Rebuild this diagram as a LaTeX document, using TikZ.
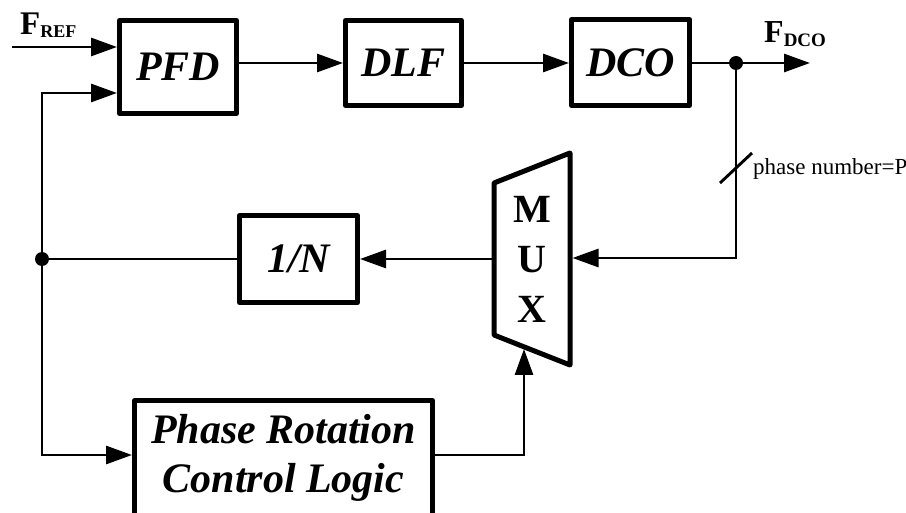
\documentclass[tikz,border=0pt]{standalone}
\usepackage{fontspec}
\setmainfont{Liberation Serif}
\usetikzlibrary{arrows.meta, positioning, calc}

\begin{document}
\begin{tikzpicture}[
  x=1pt, y=-1pt,
  blk/.style={draw, line width=5pt, line join=round, inner sep=0pt, align=center,
    font=\fontsize{42}{49}\selectfont\bfseries\itshape},
  wire/.style={line width=2.9pt},
  arr/.style={wire, -{Triangle[length=26pt, width=18pt]}},
  jdot/.style={circle, fill, inner sep=0pt, minimum size=14pt},
  lbl/.style={anchor=base west, inner sep=0pt}
]
  \useasboundingbox (0,0) rectangle (906,513);
  \clip (0,0) rectangle (906,513);

  % blocks
  \node[blk, minimum width=117pt, minimum height=93pt] (pfd) at (178,67) {PFD};
  \node[blk, minimum width=116pt, minimum height=85pt] (dlf) at (403.5,63) {DLF};
  \node[blk, minimum width=118pt, minimum height=86pt] (dco) at (630.5,62.5) {DCO};
  \node[blk, minimum width=118pt, minimum height=87pt] (ndiv) at (298.5,259) {1/N};
  \node[blk, minimum width=298pt, minimum height=115pt] (prc) at (283.5,458) {Phase Rotation\\Control Logic};

  % mux
  \coordinate (mux-tl) at (494,183);
  \coordinate (mux-tr) at (570,153);
  \coordinate (mux-br) at (570,365);
  \coordinate (mux-bl) at (494,335);
  \draw[line width=5pt, line join=round] (mux-tl) -- (mux-tr) -- (mux-br) -- (mux-bl) -- cycle;
  \node[align=center, font=\fontsize{40}{50}\selectfont\bfseries] (mux) at (532,259) {M\\U\\X};
  \coordinate (mux-in) at (572.5,258);
  \coordinate (mux-out) at (491.5,259);
  \coordinate (mux-sel) at (524,349);

  % connectors
  \coordinate (fref) at (12,47);
  \coordinate (tap) at (736,63);
  \coordinate (fdco) at (810,63);
  \coordinate (fb) at (42,259);
  \draw[arr] (fref) -- (fref -| pfd.west);
  \draw[arr] (pfd.east |- dlf) -- (dlf.west);
  \draw[arr] (dlf.east) -- (dlf.east -| dco.west);
  \draw[wire] (dco.east |- tap) -- (tap);
  \draw[arr] (tap) -- (fdco);
  \draw[arr] (tap) |- (mux-in);
  \draw[arr] (mux-out) -- (mux-out -| ndiv.east);
  \draw[wire] (ndiv.west |- fb) -- (fb);
  \draw[arr] (fb) |- ($(pfd.west)+(0,26)$);
  \draw[arr] (fb) |- (prc.west |- 0,455);
  \draw[arr] (prc.east |- 0,455) -| (mux-sel);
  \node[jdot] (tapdot) at (tap) {};
  \node[jdot] (fbdot) at (fb) {};
  \draw[wire] ($(tap)+(-16,120)$) -- ($(tap)+(16,90)$);

  % labels
  \node[lbl, font=\fontsize{33}{33}\selectfont\bfseries] (freflbl) at (20,35)
    {F\raisebox{-3pt}{\fontsize{18}{18}\selectfont REF}};
  \node[lbl, font=\fontsize{32}{32}\selectfont\bfseries] (fdcolbl) at (764,43)
    {F\raisebox{-4pt}{\fontsize{19}{19}\selectfont DCO}};
  \node[lbl, font=\fontsize{23}{23}\selectfont] (phaselbl) at (753,175) {phase number=P};
\end{tikzpicture}
\end{document}
